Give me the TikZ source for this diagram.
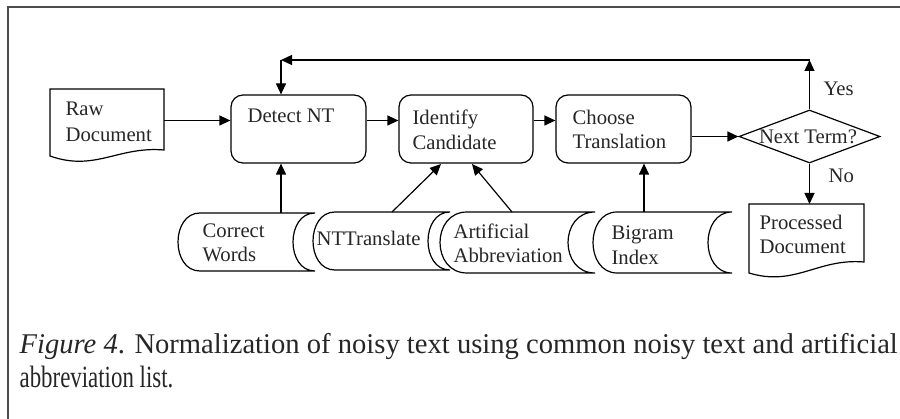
\documentclass[tikz,border=0pt]{standalone}
\usepackage{fontspec}
\usepackage{graphicx}
\setmainfont{Liberation Serif}
\usetikzlibrary{shapes.geometric,arrows.meta,calc}
\newcommand\sdshape[5]{%
  \draw (#1+#5,#3) -- (#2,#3) .. controls (#2-1.333*#5,#3) and (#2-1.333*#5,#4) .. (#2,#4)
    -- (#1+#5,#4) .. controls (#1+#5-1.333*#5,#4) and (#1+#5-1.333*#5,#3) .. (#1+#5,#3) -- cycle;}
\begin{document}
\begin{tikzpicture}[x=1pt,y=-1pt,
  line width=1.2pt,
  every node/.style={font=\fontsize{20.7}{25}\selectfont, text=black!85},
  arr/.style={-{Triangle[length=11pt,width=10pt]}},
  proc/.style={draw, rounded corners=12pt, minimum width=135pt, minimum height=68pt, inner sep=0pt},
  lbl/.style={anchor=base west, inner sep=0pt},
  captxt/.style={anchor=base west, inner sep=0pt, font=\fontsize{28.6}{31}\selectfont}
]
\useasboundingbox (0,0) rectangle (900,419);
% frame
\draw[line width=1.5pt, black!70] (8,419) -- (8,7) -- (900,7);

% process boxes
\node[proc] (detect) at (298.5,129) {};
\node[proc, minimum width=134pt] (ident) at (466,129) {};
\node[proc] (choose) at (623.5,129) {};
\node[draw, diamond, minimum width=141pt, minimum height=53pt, inner sep=0pt] (dia) at (809.5,136.5) {};

% documents
\draw (50,89) -- (164,89) -- (164,150) .. controls (118,146) and (95,172) .. (50,156) -- cycle;
\draw (749,204) -- (864,204) -- (864,262) .. controls (818,258) and (795,287) .. (749,273) -- cycle;

% stored data
\sdshape{178}{315}{213}{271}{22}
\sdshape{313}{450}{212}{270}{22}
\sdshape{440}{595}{212}{273}{27}
\sdshape{593}{732}{212}{273}{24}

% coordinates
\coordinate (rawR) at (164,120.5);
\coordinate (yesTop) at (809.5,60);
\coordinate (loopL) at (281,60);
\coordinate (pdTop) at (809.5,204);
\coordinate (cwTop) at (281,213);
\coordinate (ntTop) at (392,212);
\coordinate (aaTop) at (512,212);
\coordinate (biTop) at (644,212);
\coordinate (identA) at (441,164);
\coordinate (identB) at (472,164);

% labels
\node[lbl] (t1) at (65,116) {Raw};
\node[lbl] (t2) at (65,142) {Document};
\node[lbl] (t3) at (247,123) {Detect NT};
\node[lbl] (t4) at (412,125) {Identify};
\node[lbl] (t5) at (412,150) {Candidate};
\node[lbl] (t6) at (572,125) {Choose};
\node[lbl] (t7) at (572,149) {Translation};
\node[anchor=base, inner sep=0pt] (t8) at (808,144) {Next Term?};
\node[lbl] (t9) at (823,96) {Yes};
\node[lbl] (t10) at (828,183) {No};
\node[lbl] (t11) at (759,230) {Processed};
\node[lbl] (t12) at (759,254) {Document};
\node[lbl] (t13) at (202,238) {Correct};
\node[lbl] (t14) at (202,262) {Words};
\node[lbl] (t15) at (316,246) {NTTranslate};
\node[lbl] (t16) at (453,239) {Artificial};
\node[lbl] (t17) at (453,263) {Abbreviation};
\node[lbl] (t18) at (611,240) {Bigram};
\node[lbl] (t19) at (611,265) {Index};

% connectors
\draw[arr] (rawR) -- (detect.west |- rawR);
\draw[arr] (detect.east |- rawR) -- (ident.west |- rawR);
\draw[arr] (ident.east |- rawR) -- (choose.west |- rawR);
\draw[arr] (choose.east |- dia.west) -- (dia.west);
\draw[arr] (dia.north) -- (yesTop);
\draw[arr] (yesTop) -- (loopL);
\draw[arr] (loopL) -- (loopL |- detect.north);
\draw[arr] (dia.south) -- (pdTop);
\draw[arr] (cwTop) -- (cwTop |- detect.south);
\draw[arr] (ntTop) -- (identA);
\draw[arr] (aaTop) -- (identB);
\draw[arr] (biTop) -- (biTop |- choose.south);

% caption
\node[captxt] (c1) at (19,354) {\textit{Figure 4}. Normalization of noisy text using common noisy text and artificial};
\node[captxt] (c2) at (19,388) {\scalebox{0.8}[1.08]{abbreviation list.}};
\end{tikzpicture}
\end{document}
